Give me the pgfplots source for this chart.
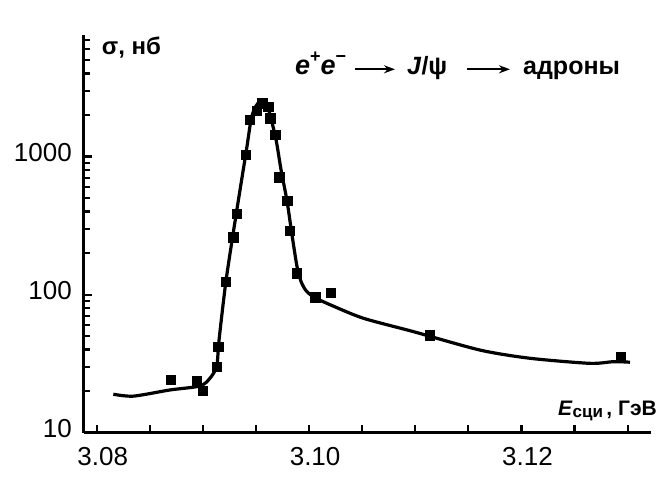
\documentclass[border=0pt]{standalone}
\usepackage{fontspec}
\setmainfont{Liberation Sans}
\usepackage{pgfplots}
\pgfplotsset{compat=1.18}
\usetikzlibrary{arrows.meta}

\newcommand{\sups}[1]{\raisebox{0.5em}{\fontsize{18}{18}\selectfont\bfseries #1}}

\begin{document}
\begin{tikzpicture}[x=1pt,y=1pt]
\begin{axis}[
  at={(0,0)}, anchor=south west,
  scale only axis, width=567pt, height=397.7pt,
  ymode=log,
  xmin=3.0788, xmax=3.1322, ymin=10, ymax=7600,
  axis lines=left,
  axis line style={-, line width=3pt},
  tick align=inside,
  major tick length=8pt, minor tick length=6pt,
  tick style={black, line width=2.2pt},
  xtick={3.08,3.085,3.09,3.095,3.1,3.105,3.11,3.115,3.12,3.125,3.13},
  xticklabels={3.08,,,,3.10,,,,3.12,,},
  ytick={10,100,1000}, yticklabels={10,100,1000},
  minor ytick={20,30,40,50,60,70,80,90,200,300,400,500,600,700,800,900,2000,3000,4000,5000,6000,7000},
  /pgf/number format/assume math mode=true,
  tick label style={font=\fontsize{26}{28}\selectfont, inner sep=0pt},
  xticklabel style={anchor=north, xshift=6pt},
  yticklabel style={anchor=east, yshift=4pt},
  xticklabel shift=14pt, yticklabel shift=12pt,
  clip=false,
]
% fitted curve
\addplot[black, line width=3.2pt, smooth, tension=0.45] coordinates {
  (3.08156,19.0) (3.08345,18.4) (3.0869,20.4) (3.08973,21.8) (3.09066,24.8)
  (3.0913,30.3) (3.09152,47) (3.09218,127) (3.09312,378) (3.0941,1119)
  (3.09453,1845) (3.0949,2254) (3.09544,2550) (3.09591,2480) (3.09632,2005)
  (3.09689,1321) (3.09736,801) (3.09792,477) (3.09839,271) (3.09886,160)
  (3.09925,124) (3.09975,106) (3.10056,95) (3.10206,84) (3.1051,67.5) (3.10981,54)
  (3.11609,39.7) (3.1208,34.6) (3.12645,31.8) (3.12865,32.7) (3.13022,32.4)
};
% measurements
\addplot[only marks, mark=square*, mark size=4.7pt, black] coordinates {
  (3.08697,24.1) (3.08942,23.7) (3.08998,20.1) (3.0913,30.1) (3.09145,42.0)
  (3.09215,124) (3.09286,260.6) (3.09318,384.5) (3.09403,1028) (3.09443,1845)
  (3.09507,2154) (3.09559,2438) (3.09616,2303) (3.09632,1898) (3.09679,1436)
  (3.09719,709) (3.09795,477) (3.0982,291) (3.09886,143) (3.10056,95.7)
  (3.10206,103) (3.11138,51) (3.12937,35.2)
};
\end{axis}
% y label
\node[anchor=base west, font=\fontsize{24}{26}\selectfont\bfseries, inner sep=0pt] at (17.7,377.7) {σ, нб};
% reaction
\begin{scope}[font=\fontsize{25}{28}\selectfont\bfseries]
\node[anchor=base west, inner sep=0pt] at (211,357.7) {{\fontsize{27}{28}\selectfont\textit{e}}\sups{+}{\fontsize{27}{28}\selectfont\textit{e}}\sups{−}};
\draw[line width=2pt,-{Stealth[length=11pt,width=8pt]}] (271,363.4) -- (311,363.4);
\node[anchor=base west, inner sep=0pt] at (323,357.7) {\textit{J}/ψ};
\draw[line width=2pt,-{Stealth[length=11pt,width=8pt]}] (383,363.4) -- (426,363.4);
\node[anchor=base west, inner sep=0pt] at (439,357.7) {адроны};
\end{scope}
% x label
\node[anchor=base east, font=\fontsize{21}{24}\selectfont\bfseries, inner sep=0pt] at (573,17.7)
  {\textit{E}\raisebox{-0.25ex}{\fontsize{17}{18}\selectfont\bfseries сци}\,, ГэВ};
\pgfresetboundingbox
\path[use as bounding box] (-84,-63.3) rectangle (583,432.7);
\end{tikzpicture}
\end{document}
